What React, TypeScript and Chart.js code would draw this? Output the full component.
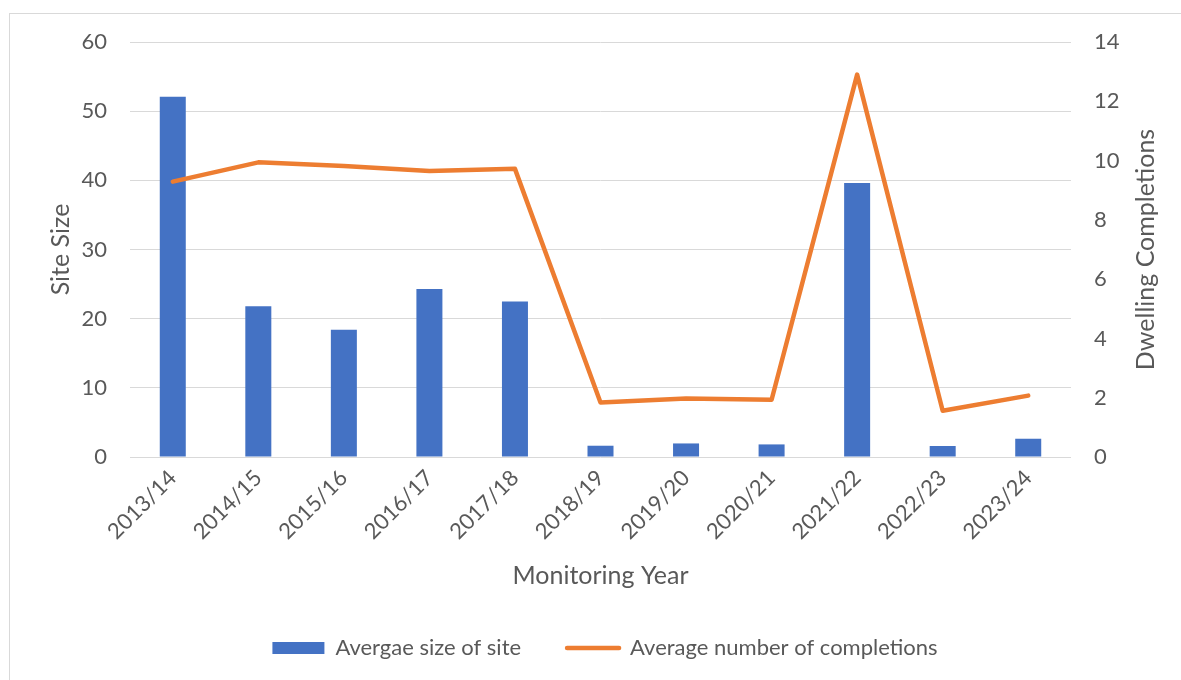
import React, { useEffect, useRef } from 'react';
import { Chart, registerables } from 'chart.js';

Chart.register(...registerables);

const categories = ['2013/14', '2014/15', '2015/16', '2016/17', '2017/18', '2018/19', '2019/20', '2020/21', '2021/22', '2022/23', '2023/24'];
const siteSize = [52.1, 21.8, 18.4, 24.3, 22.5, 1.63, 1.96, 1.82, 39.6, 1.59, 2.64];
const completions = [9.29, 9.94, 9.82, 9.65, 9.72, 1.84, 1.97, 1.93, 12.9, 1.56, 2.07];
const leftTicks = [0, 10, 20, 30, 40, 50, 60];
const rightTicks = [0, 2, 4, 6, 8, 10, 12, 14];

const barLabel = 'Avergae size of site';
const lineLabel = 'Average number of completions';
const xTitle = 'Monitoring Year';
const leftTitle = 'Site Size';
const rightTitle = 'Dwelling Completions';

const FONT = 'Lato, "Open Sans", sans-serif';
const TEXT = '#595959';
const BLUE = '#4472C4';
const ORANGE = '#ED7D31';

const rightTitlePlugin = {
  id: 'rightTitle',
  afterDraw(chart: any) {
    const ctx = chart.ctx;
    const a = chart.chartArea;
    const s = chart.scales.y1;
    ctx.save();
    ctx.translate(s.right - 35, (a.top + a.bottom) / 2);
    ctx.rotate(-Math.PI / 2);
    ctx.font = `25px ${FONT}`;
    ctx.fillStyle = TEXT;
    ctx.textAlign = 'center';
    ctx.textBaseline = 'middle';
    ctx.fillText(rightTitle, 0, 0);
    ctx.restore();
  },
};

export default function App() {
  const ref = useRef<HTMLCanvasElement>(null);
  useEffect(() => {
    if (!ref.current) return;
    const chart = new Chart(ref.current, {
      type: 'bar',
      data: {
        labels: categories,
        datasets: [
          {
            type: 'bar',
            label: barLabel,
            data: siteSize,
            backgroundColor: BLUE,
            borderWidth: 0,
            barPercentage: 0.304,
            categoryPercentage: 1,
            yAxisID: 'y',
            order: 1,
          } as any,
          {
            type: 'line',
            label: lineLabel,
            data: completions,
            borderColor: ORANGE,
            backgroundColor: ORANGE,
            borderWidth: 4.5,
            pointRadius: 0,
            pointHoverRadius: 0,
            tension: 0,
            borderCapStyle: 'round',
            borderJoinStyle: 'round',
            yAxisID: 'y1',
            order: 0,
          } as any,
        ],
      },
      options: {
        animation: false,
        responsive: false,
        maintainAspectRatio: false,
        layout: { padding: { left: 29, right: 0, top: 42, bottom: 11 } },
        plugins: {
          tooltip: { enabled: false },
          legend: {
            position: 'bottom',
            labels: {
              usePointStyle: true,
              pointStyleWidth: 52,
              boxHeight: 12,
              padding: 46,
              color: TEXT,
              font: { family: FONT, size: 22 },
              generateLabels: (c: any) =>
                c.data.datasets.map((d: any, i: number) => ({
                  text: d.label,
                  fillStyle: d.type === 'line' ? d.borderColor : d.backgroundColor,
                  strokeStyle: d.type === 'line' ? d.borderColor : d.backgroundColor,
                  lineWidth: d.type === 'line' ? 4.5 : 0,
                  lineCap: 'round',
                  pointStyle: d.type === 'line' ? 'line' : 'rect',
                  fontColor: TEXT,
                  hidden: false,
                  datasetIndex: i,
                })),
            },
          },
        },
        scales: {
          x: {
            grid: { display: false, drawTicks: false },
            border: { display: false },
            ticks: {
              autoSkip: false,
              minRotation: 45,
              maxRotation: 45,
              padding: 8,
              color: TEXT,
              font: { family: FONT, size: 22 },
            },
            title: {
              display: true,
              text: xTitle,
              color: TEXT,
              font: { family: FONT, size: 25 },
              padding: { top: 0, bottom: 0 },
            },
            afterFit: (s: any) => {
              s.height = 134;
              s.paddingLeft = 0;
              s.paddingRight = 0;
            },
          },
          y: {
            position: 'left',
            min: 0,
            max: 60,
            grid: { color: '#d9d9d9', lineWidth: 1, drawTicks: false },
            border: { display: false },
            afterBuildTicks: (s: any) => {
              s.ticks = leftTicks.map((v) => ({ value: v }));
            },
            ticks: { padding: 23, color: TEXT, font: { family: FONT, size: 22 } },
            title: {
              display: true,
              text: leftTitle,
              color: TEXT,
              font: { family: FONT, size: 25 },
              padding: { top: 17, bottom: 0 },
            },
            afterFit: (s: any) => {
              s.width = 101;
              s.paddingTop = 0;
              s.paddingBottom = 0;
            },
          },
          y1: {
            position: 'right',
            min: 0,
            max: 14,
            grid: { display: false, drawTicks: false },
            border: { display: false },
            afterBuildTicks: (s: any) => {
              s.ticks = rightTicks.map((v) => ({ value: v }));
            },
            ticks: { padding: 23, color: TEXT, font: { family: FONT, size: 22 } },
            afterFit: (s: any) => {
              s.width = 110;
              s.paddingTop = 0;
              s.paddingBottom = 0;
            },
          },
        },
      } as any,
      plugins: [rightTitlePlugin],
    });
    return () => chart.destroy();
  }, []);

  return (
    <div style={{ position: 'fixed', left: 0, top: 0, width: 1181, height: 680, overflow: 'hidden', background: '#fff' }}>
      <div
        style={{
          position: 'absolute',
          left: 9,
          top: 13,
          width: 1200,
          height: 700,
          border: '1px solid #d9d9d9',
          boxSizing: 'border-box',
        }}
      />
      <canvas ref={ref} width={1181} height={680} style={{ position: 'absolute', left: 0, top: 0, width: 1181, height: 680 }} />
    </div>
  );
}
